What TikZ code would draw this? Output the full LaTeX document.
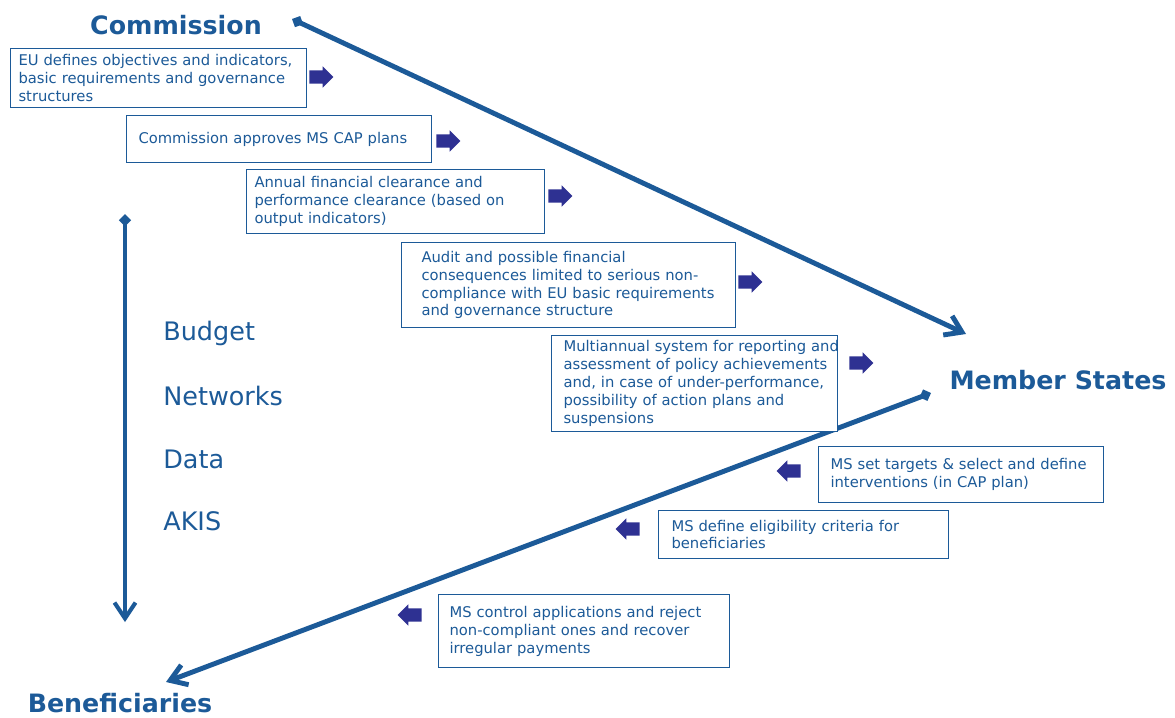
\documentclass[tikz,border=0pt]{standalone}
\usepackage{fontspec}
\setmainfont{DejaVu Sans}
\usetikzlibrary{arrows.meta,shapes.arrows}
\definecolor{capblue}{HTML}{1C5A98}
\definecolor{darrow}{HTML}{2E3192}

\begin{document}
\begin{tikzpicture}[x=0.02cm,y=-0.02cm,
        box/.style={draw=capblue, line width=0.6pt, fill=white, text=capblue, align=left, inner sep=0pt, anchor=north west, font=\fontsize{8.4}{10.2}\selectfont},
        blockarrow/.style={single arrow, fill=darrow, inner sep=0.125cm, minimum height=0.48cm, single arrow head extend=0.08cm, single arrow head indent=0cm},
        biglabel/.style={text=capblue, inner sep=0pt, font=\bfseries\fontsize{14.4}{17}\selectfont},
        sidelabel/.style={text=capblue, inner sep=0pt, anchor=west, font=\fontsize{14.5}{17}\selectfont},
        flow/.style={draw=capblue, line width=2.8pt, {Diamond[length=7pt,width=7pt]}-{Straight Barb[length=9pt,width=12pt]}}]
        \useasboundingbox (0,0) rectangle (1175,717);
        \node[biglabel] (comm) at (176,25) {Commission};
        \node[biglabel] (ms) at (1058,380) {Member States};
        \node[biglabel] (benef) at (120,703) {Beneficiaries};
        \node[sidelabel] (budget) at (163,333) {Budget};
        \node[sidelabel] (networks) at (163,396) {Networks};
        \node[sidelabel] (data) at (163,459) {Data};
        \node[sidelabel] (akis) at (163,521) {AKIS};
        % ends of the three long arrows
        \coordinate (cStart) at (292,19);
        \coordinate (cEnd) at (966,334);
        \coordinate (mStart) at (931,393);
        \coordinate (mEnd) at (166,682);
        \coordinate (vStart) at (125,214);
        \coordinate (vEnd) at (125,622);
        \draw[flow] (cStart) -- (cEnd);
        \draw[flow] (mStart) -- (mEnd);
        \draw[flow, line width=2.3pt] (vStart) -- (vEnd);
        % steps
        \node[box, minimum width=5.92cm, minimum height=1.18cm, text width=5.6cm] (objectives) at (10,48) {EU defines objectives and indicators,\\basic requirements and governance\\structures};
        \node[box, minimum width=6.10cm, minimum height=0.94cm, text width=5.62cm] (approves) at (126,115) {Commission approves MS CAP plans};
        \node[box, minimum width=5.96cm, minimum height=1.28cm, text width=5.64cm] (clearance) at (246,169) {Annual financial clearance and\\performance clearance (based on\\output indicators)};
        \node[box, minimum width=6.68cm, minimum height=1.70cm, text width=5.88cm] (audit) at (401,242) {Audit and possible financial\\consequences limited to serious non-\\\mbox{compliance with EU basic requirements}\\and governance structure};
        \node[box, minimum width=5.72cm, minimum height=1.92cm, text width=5.24cm] (reporting) at (551,335) {\mbox{Multiannual system for reporting and}\\\mbox{assessment of policy achievements}\\\mbox{and, in case of under-performance,}\\possibility of action plans and\\suspensions};
        \node[box, minimum width=5.70cm, minimum height=1.12cm, text width=5.22cm] (targets) at (818,446) {MS set targets \& select and define\\interventions (in CAP plan)};
        \node[box, minimum width=5.80cm, minimum height=0.96cm, text width=5.28cm] (eligibility) at (658,510) {MS define eligibility criteria for\\beneficiaries};
        \node[box, minimum width=5.82cm, minimum height=1.46cm, text width=5.38cm] (control) at (438,594) {MS control applications and reject\\non-compliant ones and recover\\irregular payments};
        % small block arrows
        \node[blockarrow] (a1) at (318,77) {};
        \node[blockarrow] (a2) at (445,141) {};
        \node[blockarrow] (a3) at (557,196) {};
        \node[blockarrow] (a4) at (747,282) {};
        \node[blockarrow] (a5) at (858,363) {};
        \node[blockarrow, shape border rotate=180] (a6) at (792,471) {};
        \node[blockarrow, shape border rotate=180] (a7) at (631,529) {};
        \node[blockarrow, shape border rotate=180] (a8) at (413,615) {};
\end{tikzpicture}
\end{document}
